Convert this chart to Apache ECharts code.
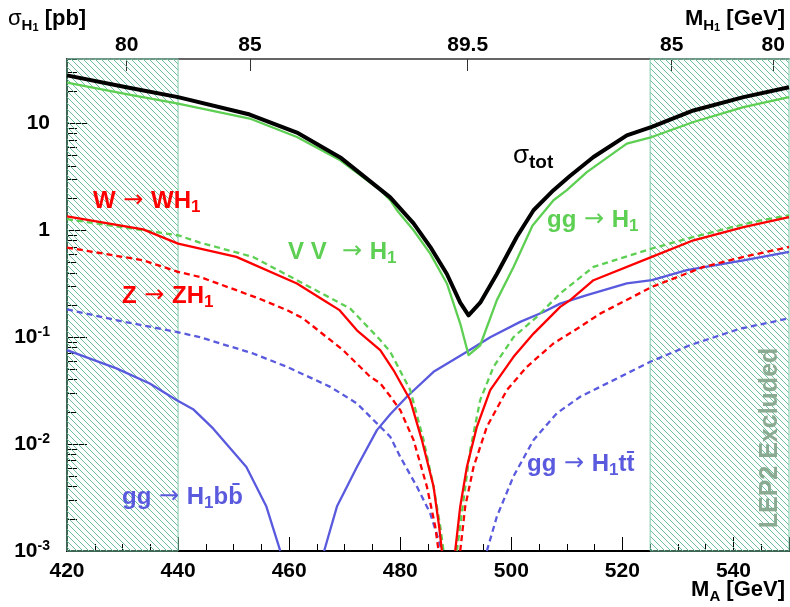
<!DOCTYPE html>
<html><head><meta charset="utf-8">
<script src="https://cdn.jsdelivr.net/npm/echarts@6/dist/echarts.min.js"></script>
<style>html,body{margin:0;padding:0;background:#fff}#c{width:790px;height:607px}</style>
</head><body><div id="c"></div>
<script>
// ---------- data (M_A in GeV, sigma in pb) ----------
const sigmaTot = [[420,28.1],[430.7,21.8],[440,17.6],[452.9,12.1],[461.4,8.2],[469.2,4.8],[478.2,2.03],[482.4,1.16],[485.4,0.70],[488.4,0.39],[490.8,0.21],[492.3,0.16],[494.4,0.21],[497.4,0.39],[501.0,0.87],[504.0,1.54],[507.6,2.37],[510.5,3.2],[514.8,4.84],[520.8,7.72],[525.3,9.25],[532.8,13.2],[541.8,17.6],[550,21.8]];
const ggH1 = [[420,24.0],[430.7,18.8],[440,15.3],[452.9,11.1],[461.4,7.45],[469.2,4.51],[476.4,2.37],[478.2,1.91],[479.4,1.54],[482.4,1.0],[485.4,0.605],[488.4,0.318],[490.8,0.134],[492.3,0.068],[494.4,0.084],[497.4,0.222],[500.4,0.454],[503.8,1.1],[507.6,1.91],[510.0,2.37],[513.6,3.5],[520.8,6.46],[525.3,7.45],[532.8,10.3],[541.8,14.2],[550,17.6]];
const vvH1 = [[420,1.27],[433.7,1.0],[440,0.898],[443.9,0.767],[453.5,0.563],[462.5,0.318],[471.0,0.185],[476.4,0.094],[478.2,0.073],[481.8,0.032],[484.2,0.0109],[486.0,0.004],[487.2,0.0017],[487.8,0.001],null,[490.2,0.001],[491.4,0.003],[492.6,0.0088],[494.4,0.0258],[496.8,0.0528],[500.4,0.1],[504.6,0.155],[508.8,0.256],[514.8,0.454],[525.3,0.675],[532.8,0.866],[543.6,1.2],[550,1.38]];
const wWH1 = [[420,1.35],[433.7,1.02],[440,0.75],[450.5,0.563],[461.4,0.318],[466,0.225],[469,0.18],[472.2,0.116],[476.4,0.0756],[478.8,0.049],[481.8,0.0258],[483.9,0.0109],[486.0,0.004],[487.0,0.0017],[487.5,0.001],null,[489.9,0.001],[490.8,0.0026],[492.0,0.0061],[493.8,0.0145],[496.2,0.032],[500.4,0.0655],[504.0,0.108],[508.8,0.192],[510.6,0.222],[514.8,0.341],[525.3,0.563],[532.8,0.806],[541.8,1.07],[550,1.33]];
const zZH1 = [[420,0.689],[433.7,0.524],[440,0.408],[443.9,0.366],[450.5,0.275],[455,0.225],[459.6,0.179],[462.5,0.15],[469.7,0.0756],[474.6,0.0426],[476.4,0.037],[478.2,0.028],[480.0,0.0208],[482.4,0.0109],[484.8,0.004],[486.3,0.0017],[486.9,0.001],null,[490.8,0.001],[491.7,0.0026],[493.2,0.0061],[495.6,0.0145],[499.2,0.032],[502.8,0.0528],[507.6,0.0873],[512.4,0.125],[516.0,0.166],[525.3,0.295],[534.6,0.454],[541.8,0.563],[550,0.698]];
const bbH1 = [[420,0.0756],[428.9,0.051],[434.9,0.0369],[439.7,0.0258],[442.7,0.0212],[446.3,0.014],[452.3,0.0061],[455.9,0.0026],[458.4,0.001],null,[466.3,0.001],[468.6,0.0026],[472.2,0.0061],[475.8,0.0135],[478.2,0.019],[481.2,0.0277],[486.0,0.0474],[492.0,0.073],[496.2,0.1],[501.6,0.139],[505.8,0.172],[508.8,0.206],[513.6,0.247],[520.8,0.318],[525.3,0.341],[531.6,0.423],[541.8,0.524],[550,0.627]];
const ttH1 = [[420,0.182],[428.9,0.144],[439.7,0.112],[443.9,0.1],[453.5,0.0704],[459.6,0.0528],[467.4,0.0343],[472.2,0.024],[475.8,0.0156],[478.2,0.0117],[480.0,0.0076],[483.0,0.004],[485.4,0.00225],[486.9,0.00127],[487.5,0.001],null,[495.6,0.001],[497.4,0.0021],[500.4,0.005],[504.0,0.0109],[508.2,0.0194],[512.4,0.0277],[514.2,0.0308],[525.0,0.0588],[532.2,0.0842],[541.2,0.12],[550,0.15]];
const excludedRanges = [[420,440],[525,550]];
const topTickPos = [430.74, 452.95, 492.14, 528.87, 547.17];
const topTickLabels = ['80','85','89.5','85','80'];
const yMajor = [0.001, 0.01, 0.1, 1, 10];

// ---------- helpers ----------
const F = 'Liberation Sans';
const FA = 'DejaVu Sans';
const yMinor = [];
for (let e = -3; e <= 1; e++) for (let m = 2; m <= 9; m++) { const v = m * Math.pow(10, e); if (v <= 40) yMinor.push(+v.toPrecision(3)); }
function hatch() {
  const s = 6, c = document.createElement('canvas'); c.width = s; c.height = s;
  const g = c.getContext('2d'); g.strokeStyle = '#6cc19b'; g.lineWidth = 1;
  g.beginPath();
  for (let k = -1; k <= 1; k++) { g.moveTo(k * s, 0); g.lineTo(k * s + s, s); }
  g.stroke(); return c;
}
function line(name, data, color, width, dashed, z) {
  return {type:'line', name, data, xAxisIndex:0, yAxisIndex:0, symbol:'none', showSymbol:false, smooth:false, clip:true, z,
    connectNulls:false, silent:true, lineStyle:{color, width, type: dashed ? [6,4] : 'solid', join:'round'}, itemStyle:{color}};
}
function rich(color, size, sub) {
  return {
    t:{fill:color, fontFamily:F, fontWeight:'bold', fontSize:size, lineHeight:size+6},
    n:{fill:color, fontFamily:F, fontWeight:'normal', fontSize:size, lineHeight:size+6},
    a:{fill:color, fontFamily:FA, fontWeight:'normal', fontSize:size, lineHeight:size+6},
    s:{fill:color, fontFamily:F, fontWeight:'bold', fontSize:sub, lineHeight:sub, verticalAlign:'bottom'},
    ss:{fill:color, fontFamily:F, fontWeight:'bold', fontSize:Math.round(sub*0.75), lineHeight:Math.round(sub*0.5), verticalAlign:'bottom'}
  };
}
function txt(x, y, text, r, align, extra) {
  return Object.assign({type:'text', x, y, z:50, silent:true,
    style:{text, rich:r, align:align||'left', verticalAlign:'middle', fontFamily:F}}, extra||{});
}
const GREEN = '#5dcf52', RED = '#ff0000', BLUE = '#5a5ade', BLACK = '#000';

const chart = echarts.init(document.getElementById('c'), null, {renderer:'canvas'});
const gridBox = {left:67, right:1, top:59, bottom:56, outerBoundsMode:'none'};
const option = {
  animation:false,
  backgroundColor:'#fff',
  grid:[Object.assign({}, gridBox), Object.assign({}, gridBox)],
  xAxis:[
    {type:'value', gridIndex:0, position:'bottom', min:420, max:550, interval:20,
     axisLine:{show:true, onZero:false, lineStyle:{color:'#000', width:2}},
     axisTick:{show:true, inside:true, length:14, lineStyle:{color:'#000', width:1}},
     minorTick:{show:true, splitNumber:4, length:7, lineStyle:{color:'#000', width:1}},
     axisLabel:{show:true, margin:10, fontFamily:F, fontWeight:'bold', fontSize:21, color:'#000', showMaxLabel:false},
     splitLine:{show:false}, minorSplitLine:{show:false}},
    {type:'value', gridIndex:0, position:'top', min:420, max:550,
     axisLine:{show:true, onZero:false, lineStyle:{color:'#333', width:1.5}},
     axisTick:{show:true, inside:true, length:12, customValues:topTickPos, lineStyle:{color:'#333', width:1}},
     axisLabel:{show:true, margin:3, customValues:topTickPos, fontFamily:F, fontWeight:'bold', fontSize:21, color:'#000',
       formatter:v => { const i = topTickPos.findIndex(p => Math.abs(p - v) < 1e-6); return i >= 0 ? topTickLabels[i] : ''; }},
     splitLine:{show:false}},
    {type:'value', gridIndex:1, min:420, max:550, show:false}
  ],
  yAxis:[
    {type:'log', gridIndex:0, logBase:10, min:0.000999, max:40, position:'left',
     axisLine:{show:true, onZero:false, lineStyle:{color:'#000', width:2}},
     axisTick:{show:true, inside:true, length:20, customValues:yMajor, lineStyle:{color:'#000', width:1}},
     axisLabel:{show:true, margin:17, customValues:yMajor,
       formatter:v => { const e = Math.round(Math.log10(v)); if (e === 0) return '{b|1}'; if (e === 1) return '{b|10}'; return '{b|10}{sup|' + e + '}'; },
       rich:{b:{fontFamily:F, fontWeight:'bold', fontSize:21, color:'#000', lineHeight:24},
             sup:{fontFamily:F, fontWeight:'bold', fontSize:14, color:'#000', lineHeight:14, verticalAlign:'top'}}},
     splitLine:{show:false}},
    {type:'log', gridIndex:1, logBase:10, min:0.000999, max:40, position:'left',
     axisLine:{show:false}, axisLabel:{show:false}, splitLine:{show:false},
     axisTick:{show:true, inside:true, length:10, customValues:yMinor, lineStyle:{color:'#000', width:1}}}
  ],
  series:[
    {type:'line', name:'LEP2 excluded', data:[], xAxisIndex:0, yAxisIndex:0, z:1, silent:true,
     markArea:{silent:true, label:{show:false},
       itemStyle:{color:{image:hatch(), repeat:'repeat'}, borderColor:'#7fcaa8', borderWidth:1, opacity:1},
       data: excludedRanges.map(r => [{xAxis:r[0]}, {xAxis:r[1]}])}},
    line('gg → H1tt̄', ttH1, BLUE, 2.3, true, 3),
    line('gg → H1bb̄', bbH1, BLUE, 2.3, false, 3),
    line('Z → ZH1', zZH1, RED, 2.3, true, 4),
    line('V V → H1', vvH1, GREEN, 2.3, true, 4),
    line('W → WH1', wWH1, RED, 2.3, false, 5),
    line('gg → H1', ggH1, GREEN, 2.3, false, 5),
    line('σtot', sigmaTot, BLACK, 4, false, 6)
  ],
  graphic:[
    txt(8, 19, '{n|σ}{s|H}{ss|1}{t| [pb]}', rich(BLACK, 22, 15)),
    txt(785, 19, '{t|M}{s|H}{ss|1}{t| [GeV]}', rich(BLACK, 22, 15), 'right'),
    txt(785, 590, '{t|M}{s|A}{t| [GeV]}', rich(BLACK, 22, 15), 'right'),
    txt(513, 156, '{n|σ}{s|tot}', Object.assign(rich(BLACK, 26, 19), {s:{fill:BLACK, fontFamily:F, fontWeight:'bold', fontSize:19, lineHeight:12, verticalAlign:'bottom'}})),
    txt(93, 201, '{t|W}{a| → }{t|WH}{s|1}', rich(RED, 24, 17)),
    txt(122, 296, '{t|Z}{a| → }{t|ZH}{s|1}', rich(RED, 24, 17)),
    txt(288, 252, '{t|V V}{a|  → }{t|H}{s|1}', rich(GREEN, 24, 17)),
    txt(547, 220, '{t|gg}{a| → }{t|H}{s|1}', rich(GREEN, 24, 17)),
    txt(122, 497, '{t|gg}{a| → }{t|H}{s|1}{t|bb\u0304}', rich(BLUE, 24, 17)),
    txt(527, 464, '{t|gg}{a| → }{t|H}{s|1}{t|tt\u0304}', rich(BLUE, 24, 17)),
    {type:'text', x:770, y:438, z:50, rotation:Math.PI/2, silent:true,
     style:{text:'LEP2 Excluded', fill:'#8aab92', fontFamily:F, fontWeight:'bold', fontSize:25, align:'center', verticalAlign:'middle'}}
  ]
};
chart.setOption(option);
</script>
</body></html>
